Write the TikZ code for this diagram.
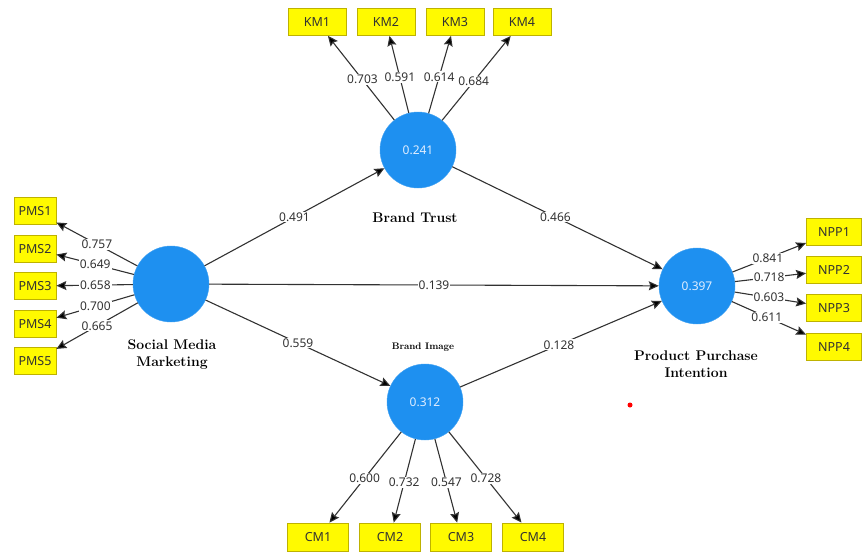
\documentclass[tikz,border=0pt]{standalone}
\usepackage{fontspec}
\newfontfamily\labfont{Noto Sans}
\usetikzlibrary{arrows.meta}
\definecolor{lvblue}{RGB}{30,144,240}
\definecolor{lvtext}{RGB}{225,238,255}
\definecolor{indyellow}{RGB}{255,250,0}
\definecolor{indborder}{RGB}{190,178,0}
\definecolor{txtgray}{RGB}{50,50,50}
\definecolor{linegray}{RGB}{50,50,50}
\begin{document}
\begin{tikzpicture}[x=1pt,y=-1pt,
 lv/.style={circle, fill=lvblue, draw=lvblue!85!white, minimum size=76pt, inner sep=0pt, text=lvtext, font=\labfont\fontsize{12}{14}\selectfont},
 ind/.style={rectangle, fill=indyellow, draw=indborder, line width=0.8pt, minimum height=27pt, inner sep=0pt, text=txtgray, font=\labfont\fontsize{12.5}{14}\selectfont},
 con/.style={draw=linegray, line width=1.1pt, -{Stealth[length=10pt,width=9pt,inset=1.5pt,fill=black]}},
 lab/.style={fill=white, inner sep=1pt, text=txtgray, font=\labfont\fontsize{12}{14}\selectfont},
 cname/.style={font=\bfseries\fontsize{14}{17}\selectfont, align=center, text=black}
]
\useasboundingbox (0,0) rectangle (864,552);
% latent variables
\node[lv] (smm) at (171,284) {};
\node[lv] (bt) at (418,150) {0.241};
\node[lv] (bi) at (425,402) {0.312};
\node[lv] (ppi) at (697,286) {0.397};
% construct names
\node[cname] (smmname) at (172,355) {Social Media\\Marketing};
\node[cname] (btname) at (415,218) {Brand Trust};
\node[font=\bfseries\fontsize{9.5}{11}\selectfont, text=black] (biname) at (423,347) {Brand Image};
\node[cname] (ppiname) at (696,364) {Product Purchase\\Intention};
% indicators
\foreach \i/\y in {1/211,2/249,3/286,4/324,5/361}
  \node[ind, minimum width=42pt] (pms\i) at (35,\y) {PMS\i};
\foreach \i/\x in {1/317,2/386,3/455,4/522}
  \node[ind, minimum width=58pt] (km\i) at (\x,22) {KM\i};
\foreach \i/\y in {1/232,2/270,3/308,4/347}
  \node[ind, minimum width=55pt] (npp\i) at (834,\y) {NPP\i};
\foreach \i/\x in {1/318,2/390,3/461,4/533}
  \node[ind, minimum width=61pt, minimum height=28pt] (cm\i) at (\x,537) {CM\i};
% structural paths
\draw[con] (smm) -- node[lab,pos=0.5]{0.491} (bt);
\draw[con] (bt) -- node[lab,pos=0.49]{0.466} (ppi);
\draw[con] (smm) -- node[lab,pos=0.5]{0.139} (ppi);
\draw[con] (smm) -- node[lab,pos=0.5]{0.559} (bi);
\draw[con] (bi) -- node[lab,pos=0.49]{0.128} (ppi);
% outer loadings
\draw[con] (smm) -- node[lab,pos=0.5]{0.757} (pms1);
\draw[con] (smm) -- node[lab,pos=0.5]{0.649} (pms2);
\draw[con] (smm) -- node[lab,pos=0.49]{0.658} (pms3);
\draw[con] (smm) -- node[lab,pos=0.5]{0.700} (pms4);
\draw[con] (smm) -- node[lab,pos=0.5]{0.665} (pms5);
\draw[con] (bt) -- node[lab,pos=0.48]{0.703} (km1);
\draw[con] (bt) -- node[lab,pos=0.46]{0.591} (km2);
\draw[con] (bt) -- node[lab,pos=0.47]{0.614} (km3);
\draw[con] (bt) -- node[lab,pos=0.46]{0.684} (km4);
\draw[con] (ppi) -- node[lab,pos=0.48]{0.841} (npp1);
\draw[con] (ppi) -- node[lab,pos=0.48]{0.718} (npp2);
\draw[con] (ppi) -- node[lab,pos=0.48]{0.603} (npp3);
\draw[con] (ppi) -- node[lab,pos=0.47]{0.611} (npp4);
\draw[con] (bi) -- node[lab,pos=0.51]{0.600} (cm1);
\draw[con] (bi) -- node[lab,pos=0.52]{0.732} (cm2);
\draw[con] (bi) -- node[lab,pos=0.52]{0.547} (cm3);
\draw[con] (bi) -- node[lab,pos=0.51]{0.728} (cm4);
% red dot
\node[circle, fill=red, inner sep=0pt, minimum size=5pt] (dot) at (630,405) {};
\end{tikzpicture}
\end{document}
